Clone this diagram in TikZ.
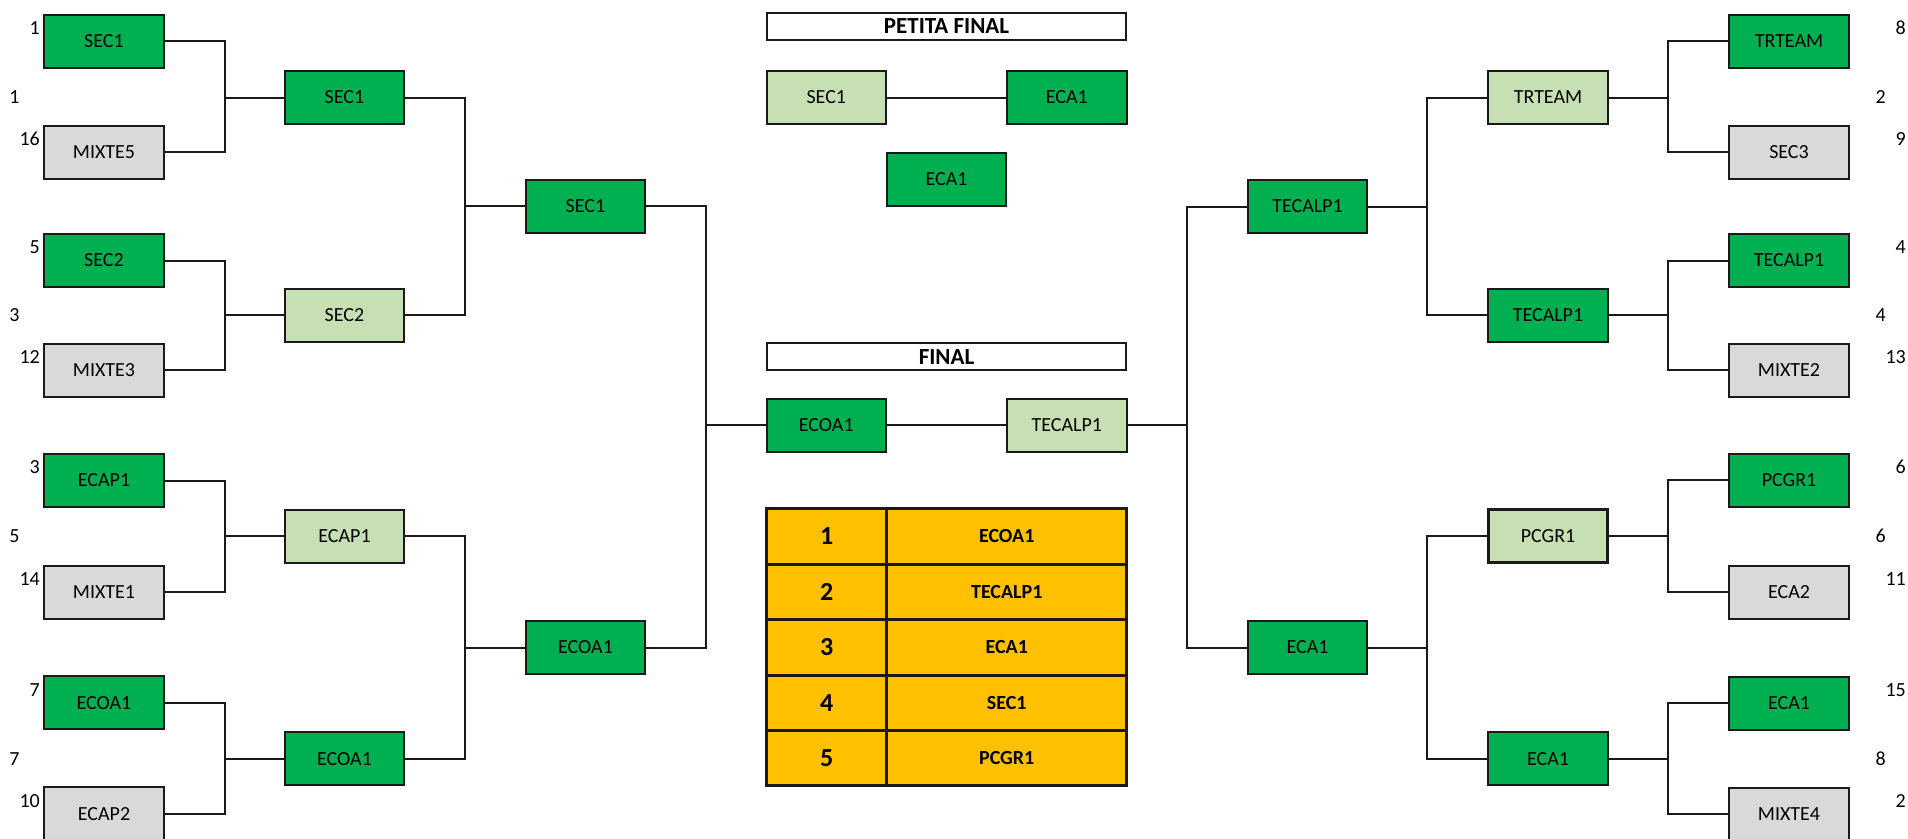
\documentclass[tikz,border=0pt]{standalone}
\usepackage{fontspec}
\setmainfont{Carlito}
\definecolor{dkgreen}{HTML}{00B050}
\definecolor{ltgreen}{HTML}{C6E0B4}
\definecolor{cellgray}{HTML}{D9D9D9}
\definecolor{gold}{HTML}{FFC000}
\definecolor{ink}{HTML}{1A1A1A}
\begin{document}
\begin{tikzpicture}[x=1pt,y=-1pt,
  team/.style={draw=ink, line width=2pt, minimum width=119.4pt, minimum height=53pt, inner sep=0pt, font=\fontsize{20}{24}\selectfont},
  win/.style={team, fill=dkgreen},
  half/.style={team, fill=ltgreen},
  lose/.style={team, fill=cellgray},
  seed/.style={font=\fontsize{20}{24}\selectfont, inner sep=0pt},
  link/.style={draw=ink, line width=2pt},
  head/.style={draw=ink, line width=2pt, fill=white, minimum width=359.6pt, minimum height=27.3pt, inner sep=0pt, font=\fontsize{23}{26}\bfseries\selectfont},
  numcell/.style={draw=ink, line width=3pt, fill=gold, minimum width=120.2pt, minimum height=55.4pt, inner sep=0pt, font=\fontsize{26}{30}\bfseries\selectfont},
  namecell/.style={draw=ink, line width=3pt, fill=gold, minimum width=240.1pt, minimum height=55.4pt, inner sep=0pt, font=\fontsize{20}{24}\bfseries\selectfont},
]
\useasboundingbox[fill=white] (0,0) rectangle (1908,838);

% Left first round
\node[win]  (a1) at (104,41.3)  {SEC1};
\node[lose] (a2) at (104,152)   {MIXTE5};
\node[win]  (a3) at (104,260.5) {SEC2};
\node[lose] (a4) at (104,370)   {MIXTE3};
\node[win]  (a5) at (104,480.5) {ECAP1};
\node[lose] (a6) at (104,592)   {MIXTE1};
\node[win]  (a7) at (104,702.7) {ECOA1};
\node[lose] (a8) at (104,813.7) {ECAP2};
% Left second round
\node[win]  (b1) at (344.5,97.5)  {SEC1};
\node[half] (b2) at (344.5,315)   {SEC2};
\node[half] (b3) at (344.5,536)   {ECAP1};
\node[win]  (b4) at (344.5,758.7) {ECOA1};
% Left semifinal
\node[win] (c1) at (585.5,206)   {SEC1};
\node[win] (c2) at (585.5,647.5) {ECOA1};
% Right semifinal
\node[win] (d1) at (1307.5,206.5) {TECALP1};
\node[win] (d2) at (1307.5,647.5) {ECA1};
% Right second round
\node[half] (e1) at (1548,97.5)  {TRTEAM};
\node[win]  (e2) at (1548,315)   {TECALP1};
\node[half, line width=3.4pt] (e3) at (1548,536) {PCGR1};
\node[win]  (e4) at (1548,758.7) {ECA1};
% Right first round
\node[win]  (f1) at (1789,41)    {TRTEAM};
\node[lose] (f2) at (1789,152)   {SEC3};
\node[win]  (f3) at (1789,260.5) {TECALP1};
\node[lose] (f4) at (1789,370)   {MIXTE2};
\node[win]  (f5) at (1789,480.3) {PCGR1};
\node[lose] (f6) at (1789,592)   {ECA2};
\node[win]  (f7) at (1789,703)   {ECA1};
\node[lose] (f8) at (1789,814)   {MIXTE4};

% Petita final
\node[head] (ph) at (946.5,26.3) {PETITA FINAL};
\node[half] (pl) at (826.3,97.5) {SEC1};
\node[win]  (pr) at (1066.8,97.5) {ECA1};
\node[win]  (p3) at (946.5,179) {ECA1};
% Final
\node[head] (fh) at (946.5,356.7) {FINAL};
\node[win]  (fl) at (826.3,425) {ECOA1};
\node[half] (fr) at (1066.8,425) {TECALP1};

% Ranking table
\node[numcell]  (n1) at (826.6,536.5)  {1};
\node[namecell] (m1) at (1006.75,536.5) {ECOA1};
\node[numcell]  (n2) at (826.6,591.9)  {2};
\node[namecell] (m2) at (1006.75,591.9) {TECALP1};
\node[numcell]  (n3) at (826.6,647.3)  {3};
\node[namecell] (m3) at (1006.75,647.3) {ECA1};
\node[numcell]  (n4) at (826.6,702.7)  {4};
\node[namecell] (m4) at (1006.75,702.7) {SEC1};
\node[numcell]  (n5) at (826.6,758.1)  {5};
\node[namecell] (m5) at (1006.75,758.1) {PCGR1};

% Seed labels left
\node[seed, anchor=east] (sa1) at (40,28.3)  {1};
\node[seed, anchor=east] (sa2) at (40,139)   {16};
\node[seed, anchor=east] (sa3) at (40,247.5) {5};
\node[seed, anchor=east] (sa4) at (40,357)   {12};
\node[seed, anchor=east] (sa5) at (40,467.5) {3};
\node[seed, anchor=east] (sa6) at (40,579)   {14};
\node[seed, anchor=east] (sa7) at (40,689.7) {7};
\node[seed, anchor=east] (sa8) at (40,800.7) {10};
\node[seed] (sb1) at (14.5,97.5)  {1};
\node[seed] (sb2) at (14.5,315)   {3};
\node[seed] (sb3) at (14.5,536)   {5};
\node[seed] (sb4) at (14.5,758.7) {7};
% Seed labels right
\node[seed, anchor=east] (sf1) at (1906,28)    {8};
\node[seed, anchor=east] (sf2) at (1906,139)   {9};
\node[seed, anchor=east] (sf3) at (1906,247.5) {4};
\node[seed, anchor=east] (sf4) at (1906,357)   {13};
\node[seed, anchor=east] (sf5) at (1906,467.3) {6};
\node[seed, anchor=east] (sf6) at (1906,579)   {11};
\node[seed, anchor=east] (sf7) at (1906,690)   {15};
\node[seed, anchor=east] (sf8) at (1906,801)   {2};
\node[seed, anchor=east] (se1) at (1886,97.5)  {2};
\node[seed, anchor=east] (se2) at (1886,315)   {4};
\node[seed, anchor=east] (se3) at (1886,536)   {6};
\node[seed, anchor=east] (se4) at (1886,758.7) {8};

% Connectors left
\draw[link] (a1.east) -- ++(60,0) |- (a2.east);
\draw[link] (a3.east) -- ++(60,0) |- (a4.east);
\draw[link] (a5.east) -- ++(60,0) |- (a6.east);
\draw[link] (a7.east) -- ++(60,0) |- (a8.east);
\draw[link] (b1.west) -- ++(-60,0);
\draw[link] (b2.west) -- ++(-60,0);
\draw[link] (b3.west) -- ++(-60,0);
\draw[link] (b4.west) -- ++(-60,0);
\draw[link] (b1.east) -- ++(60,0) |- (b2.east);
\draw[link] (b3.east) -- ++(60,0) |- (b4.east);
\draw[link] (c1.west) -- ++(-60,0);
\draw[link] (c2.west) -- ++(-60,0);
\draw[link] (c1.east) -- ++(60,0) |- (c2.east);
\draw[link] (fl.west) -- ++(-60,0);
% Finals
\draw[link] (fl.east) -- (fr.west);
\draw[link] (pl.east) -- (pr.west);
% Connectors right
\draw[link] (fr.east) -- ++(60,0);
\draw[link] (d1.west) -- ++(-60,0) |- (d2.west);
\draw[link] (d1.east) -- ++(60,0);
\draw[link] (d2.east) -- ++(60,0);
\draw[link] (e1.west) -- ++(-60,0) |- (e2.west);
\draw[link] (e3.west) -- ++(-60,0) |- (e4.west);
\draw[link] (e1.east) -- ++(60,0);
\draw[link] (e2.east) -- ++(60,0);
\draw[link] (e3.east) -- ++(60,0);
\draw[link] (e4.east) -- ++(60,0);
\draw[link] (f1.west) -- ++(-60,0) |- (f2.west);
\draw[link] (f3.west) -- ++(-60,0) |- (f4.west);
\draw[link] (f5.west) -- ++(-60,0) |- (f6.west);
\draw[link] (f7.west) -- ++(-60,0) |- (f8.west);
\end{tikzpicture}
\end{document}
